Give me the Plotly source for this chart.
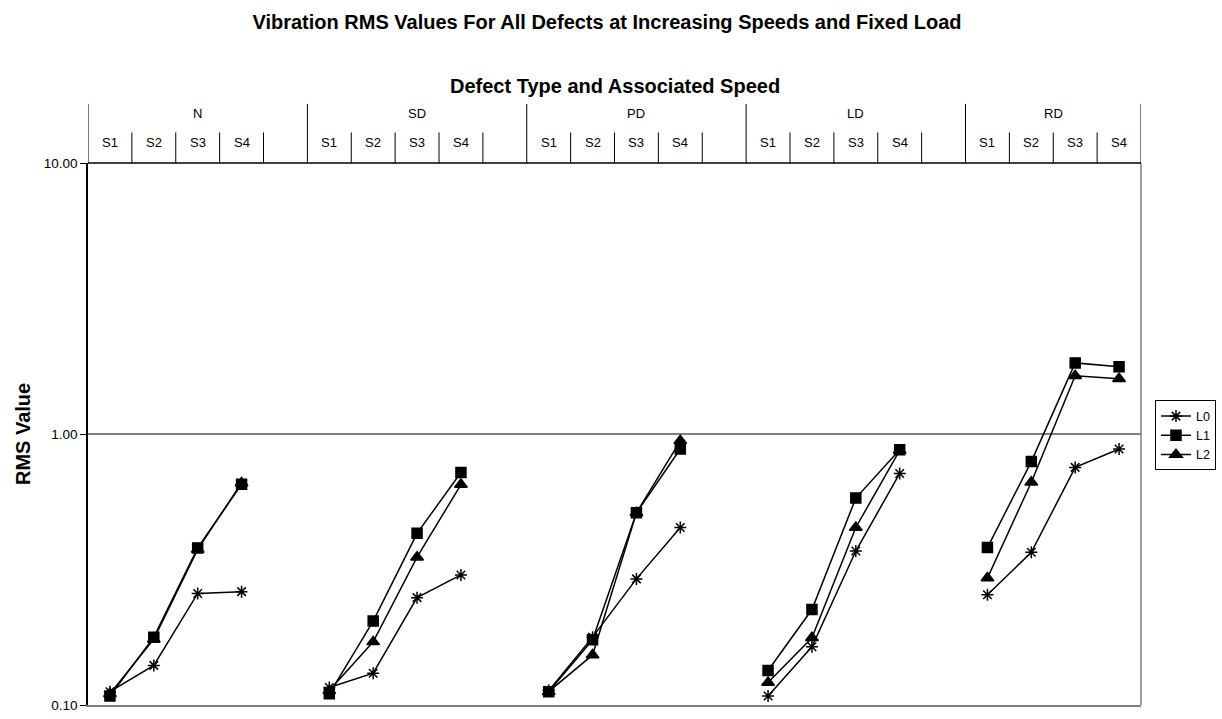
import plotly.graph_objects as go

# ---- data ----
groups = ["N", "SD", "PD", "LD", "RD"]
speeds = ["S1", "S2", "S3", "S4"]
series_names = ["L0", "L1", "L2"]

L0 = [0.112, 0.140, 0.258, 0.262,
      0.116, 0.131, 0.249, 0.302,
      0.113, 0.178, 0.292, 0.452,
      0.108, 0.164, 0.370, 0.715,
      0.255, 0.366, 0.753, 0.880]
L1 = [0.108, 0.178, 0.380, 0.652,
      0.110, 0.204, 0.430, 0.721,
      0.112, 0.174, 0.512, 0.880,
      0.134, 0.225, 0.580, 0.875,
      0.381, 0.791, 1.830, 1.770]
L2 = [0.110, 0.175, 0.375, 0.660,
      0.113, 0.171, 0.351, 0.651,
      0.112, 0.153, 0.512, 0.944,
      0.121, 0.177, 0.452, 0.870,
      0.294, 0.664, 1.640, 1.600]

ytick_vals = [0.1, 1, 10]
ytick_text = ["0.10", "1.00", "10.00"]

symbols = {"L0": "asterisk-open", "L1": "square", "L2": "triangle-up"}
sizes = {"L0": 10, "L1": 10, "L2": 11}

slots_per_group = len(speeds) + 1
n_slots = slots_per_group * (len(groups) - 1) + len(speeds)


def build_xy(vals):
    xs, ys = [], []
    for g in range(len(groups)):
        for s in range(len(speeds)):
            xs.append(g * slots_per_group + s + 0.5)
            ys.append(vals[g * len(speeds) + s])
        if g < len(groups) - 1:
            xs.append(g * slots_per_group + len(speeds) + 0.5)
            ys.append(None)
    return xs, ys


fig = go.Figure()
for name, vals in zip(series_names, [L0, L1, L2]):
    xs, ys = build_xy(vals)
    fig.add_trace(go.Scatter(
        x=xs, y=ys, name=name, mode="lines+markers", connectgaps=False,
        line=dict(color="black", width=1.5),
        marker=dict(symbol=symbols[name], size=sizes[name], color="black",
                    line=dict(color="black", width=1.5)),
    ))

FONT = "Liberation Sans, Arial, sans-serif"
plot_h = 550.0
shapes = []
annotations = []
y_top_group = 1 + 60 / plot_h
y_top_sub = 1 + 31 / plot_h
# group boundary lines
for g in range(len(groups) + 1):
    xb = min(g * slots_per_group, n_slots)
    shapes.append(dict(type="line", xref="x", yref="paper", x0=xb, x1=xb,
                       y0=1, y1=y_top_group, line=dict(color="black", width=1)))
# sub boundaries and labels
for g in range(len(groups)):
    nsub = slots_per_group if g < len(groups) - 1 else len(speeds)
    for s in range(1, nsub):
        xb = g * slots_per_group + s
        shapes.append(dict(type="line", xref="x", yref="paper", x0=xb, x1=xb,
                           y0=1, y1=y_top_sub, line=dict(color="black", width=1)))
    gw = slots_per_group if g < len(groups) - 1 else len(speeds)
    annotations.append(dict(xref="x", yref="paper", x=g * slots_per_group + gw / 2,
                            y=1 + 50 / plot_h, text=groups[g], showarrow=False,
                            xanchor="center", yanchor="middle",
                            font=dict(size=13, family=FONT, color="black")))
    for s, sp in enumerate(speeds):
        annotations.append(dict(xref="x", yref="paper", x=g * slots_per_group + s + 0.5,
                                y=1 + 21 / plot_h, text=sp, showarrow=False,
                                xanchor="center", yanchor="middle",
                                font=dict(size=13, family=FONT, color="black")))
# right and top border lines
shapes.append(dict(type="line", xref="paper", yref="paper", x0=1, x1=1, y0=0, y1=1,
                   line=dict(color="#808080", width=1.5)))
shapes.append(dict(type="line", xref="paper", yref="paper", x0=0, x1=1, y0=1, y1=1,
                   line=dict(color="black", width=1.5)))

annotations.append(dict(xref="paper", yref="paper", x=0.5, y=1 + (163 - 85) / plot_h,
                        text="<b>Defect Type and Associated Speed</b>", showarrow=False,
                        xanchor="center", yanchor="middle",
                        font=dict(size=20, family=FONT, color="black")))
annotations.append(dict(xref="paper", yref="paper", x=(23 - 88) / 1054.0, y=0.5,
                        text="<b>RMS Value</b>", textangle=-90, showarrow=False,
                        xanchor="center", yanchor="middle",
                        font=dict(size=20, family=FONT, color="black")))

fig.update_layout(
    width=1222, height=719,
    margin=dict(l=88, r=80, t=163, b=6),
    paper_bgcolor="white", plot_bgcolor="white",
    font=dict(family=FONT, size=13, color="black"),
    title=dict(text="<b>Vibration RMS Values For All Defects at Increasing Speeds and Fixed Load</b>",
               x=(607) / 1222.0, xanchor="center", y=1 - 22 / 719, yanchor="middle",
               font=dict(size=20, family=FONT, color="black")),
    xaxis=dict(range=[0, n_slots], showticklabels=False, showgrid=False, zeroline=False,
               showline=True, linecolor="#808080", linewidth=1.5, ticks=""),
    yaxis=dict(type="log", range=[-1, 1], tickvals=ytick_vals, ticktext=ytick_text,
               showgrid=True, gridcolor="#808080", gridwidth=1.5,
               showline=True, linecolor="black", linewidth=1.5,
               ticks="outside", ticklen=6, tickcolor="black",
               ticklabeloverflow="allow",
               tickfont=dict(size=13.5, family=FONT, color="black"), zeroline=False),
    legend=dict(x=(1156 - 88) / 1054.0, xanchor="left", y=(713 - 404) / plot_h, yanchor="top",
                bordercolor="black", borderwidth=1, bgcolor="white",
                font=dict(size=12.5, family=FONT, color="black"), itemwidth=30,
                tracegroupgap=0),
    shapes=shapes, annotations=annotations,
    showlegend=True,
)

fig.write_html("out.html")
